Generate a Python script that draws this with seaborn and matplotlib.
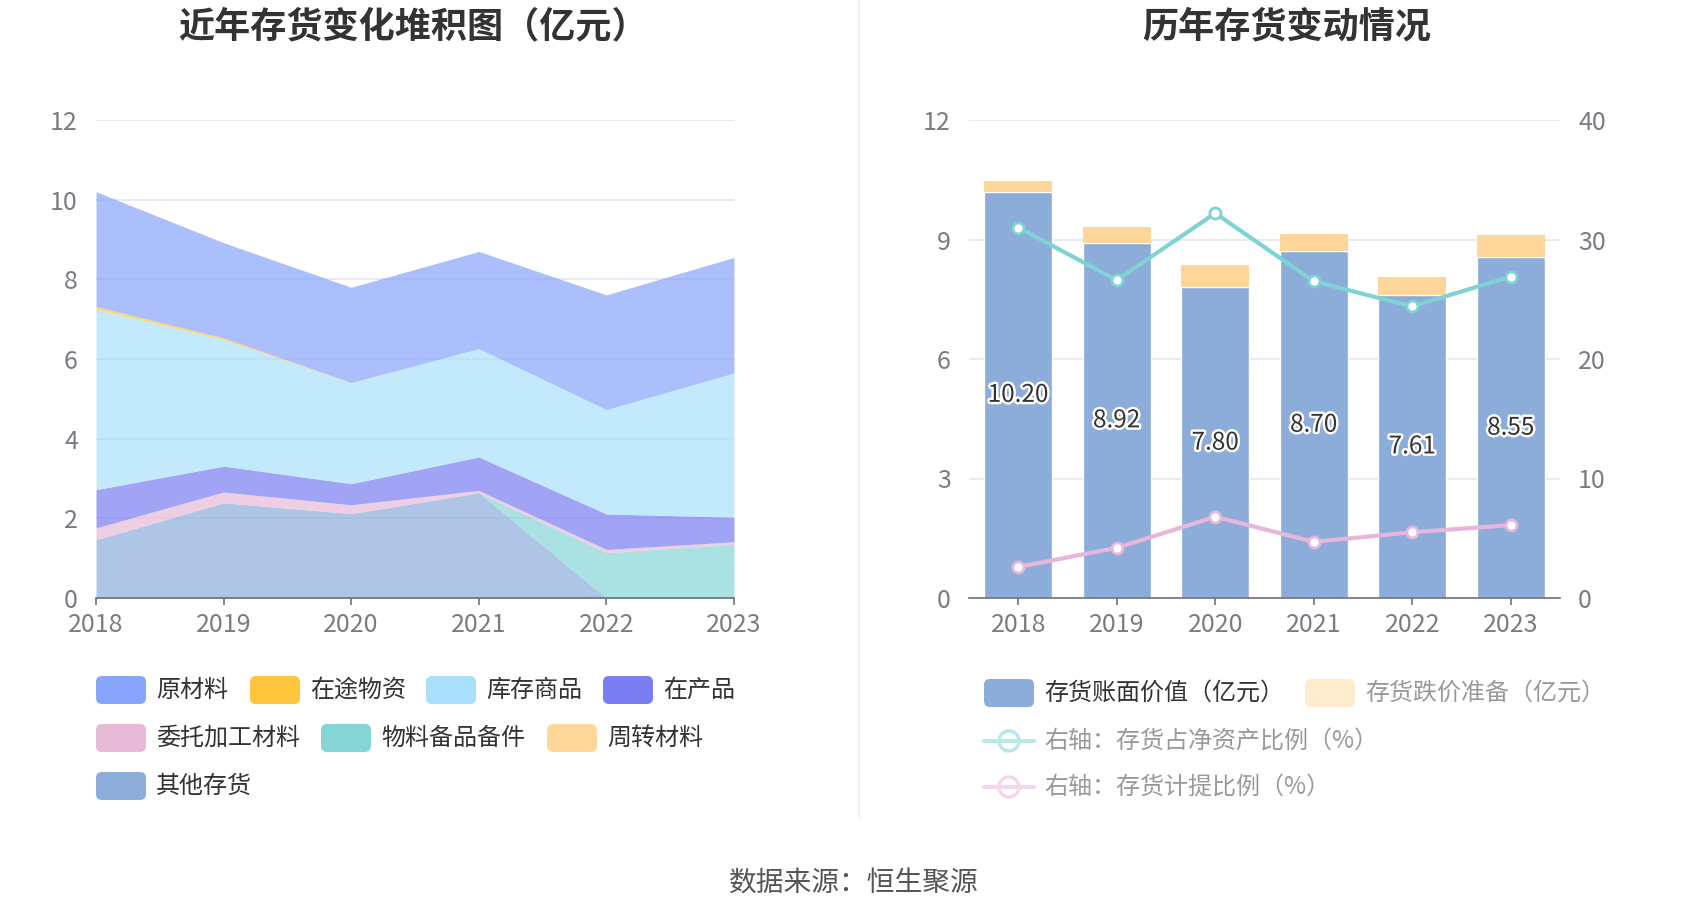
import numpy as np
import pandas as pd
import matplotlib
matplotlib.use("Agg")
import matplotlib.pyplot as plt
import matplotlib.patheffects as pe
from matplotlib.patches import FancyBboxPatch, Circle
from matplotlib.lines import Line2D
import seaborn as sns

# ---------------- data ----------------
years = ["2018", "2019", "2020", "2021", "2022", "2023"]
year_num = [2018, 2019, 2020, 2021, 2022, 2023]

raw_material = [2.88, 2.39, 2.39, 2.44, 2.88, 2.90]      # 原材料
in_transit = [0.07, 0.04, 0.01, 0.00, 0.00, 0.00]        # 在途物资
finished_goods = [4.53, 3.18, 2.53, 2.72, 2.62, 3.62]    # 库存商品
wip = [0.96, 0.65, 0.53, 0.84, 0.89, 0.62]               # 在产品
consigned = [0.30, 0.27, 0.22, 0.06, 0.08, 0.06]         # 委托加工材料
spare_parts = [0.00, 0.00, 0.00, 0.00, 1.14, 1.35]       # 物料备品备件
turnover = [0.00, 0.00, 0.00, 0.00, 0.00, 0.00]          # 周转材料
other = [1.46, 2.39, 2.12, 2.64, 0.00, 0.00]             # 其他存货

book_value = [10.20, 8.92, 7.80, 8.70, 7.61, 8.55]       # 存货账面价值（亿元）
impairment = [0.27, 0.39, 0.57, 0.43, 0.44, 0.56]        # 存货跌价准备（亿元）
ratio_net_assets = [31.0, 26.6, 32.2, 26.5, 24.4, 26.9]  # 存货占净资产比例（%）
provision_ratio = [2.6, 4.2, 6.8, 4.7, 5.5, 6.1]         # 存货计提比例（%）

left_legend = ["原材料", "在途物资", "库存商品", "在产品",
               "委托加工材料", "物料备品备件", "周转材料", "其他存货"]
left_colors = ["#88a5fd", "#ffc53d", "#a8e0fb", "#7a7ef2",
               "#e8bad8", "#86d5d6", "#ffd899", "#8dadda"]

# ---------------- style ----------------
sns.set_theme(style="white")
plt.rcParams["font.family"] = ["Noto Sans CJK SC", "DejaVu Sans"]
plt.rcParams["axes.unicode_minus"] = False

W, H = 1700, 918
fig = plt.figure(figsize=(W / 100, H / 100), dpi=100)
fig.patch.set_facecolor("white")

tick_color = "#7a7c84"
axis_color = "#6e7079"
grid_color = "#e0e6f1"
tick_fs = 18


def px_axes(x0, y0, x1, y1):
    return fig.add_axes([x0 / W, 1 - y1 / H, (x1 - x0) / W, (y1 - y0) / H])


# ---------------- left: stacked area ----------------
ax1 = px_axes(96, 120, 734, 598)
stack_series = [other, turnover, spare_parts, consigned, wip, finished_goods, in_transit, raw_material]
stack_colors = [left_colors[7], left_colors[6], left_colors[5], left_colors[4],
                left_colors[3], left_colors[2], left_colors[1], left_colors[0]]
ax1.stackplot(year_num, *[np.array(s) for s in stack_series], colors=stack_colors,
              alpha=0.7, linewidth=0, zorder=2)
ax1.set_xlim(2018, 2023)
ax1.set_ylim(0, 12)
ax1.set_yticks([0, 2, 4, 6, 8, 10, 12])
ax1.set_xticks(year_num)
ax1.set_xticklabels(years)
ax1.yaxis.grid(True, color=grid_color, lw=1.2, zorder=0)
ax1.xaxis.grid(False)
ax1.set_axisbelow(True)
for s in ["top", "right", "left"]:
    ax1.spines[s].set_visible(False)
ax1.spines["bottom"].set_color(axis_color)
ax1.spines["bottom"].set_linewidth(1.2)
ax1.tick_params(axis="x", colors=axis_color, labelcolor=tick_color, labelsize=tick_fs,
                length=5, width=1.2, direction="out", pad=5, bottom=True)
ax1.tick_params(axis="y", colors=tick_color, labelsize=tick_fs, length=0, pad=13)
ax1.set_facecolor("none")

# ---------------- right: bars + lines ----------------
ax2 = px_axes(969, 120, 1560, 598)
df = pd.DataFrame({"year": years, "book": book_value, "imp": impairment})
sns.barplot(data=df, x="year", y="book", color="#8cacd9", saturation=1, width=0.69,
            ax=ax2, zorder=2)
ax2.bar(np.arange(len(years)), impairment, bottom=book_value, width=0.69,
        color="#ffd699", zorder=2, linewidth=0)
ax2.set_xlim(-0.5, 5.5)
ax2.set_ylim(0, 12)
ax2.set_yticks([0, 3, 6, 9, 12])
ax2.set_xlabel("")
ax2.set_ylabel("")
ax2.yaxis.grid(True, color=grid_color, lw=1.2, zorder=0)
ax2.set_axisbelow(True)
for s in ["top", "right", "left"]:
    ax2.spines[s].set_visible(False)
ax2.spines["bottom"].set_color(axis_color)
ax2.spines["bottom"].set_linewidth(1.2)
ax2.tick_params(axis="x", colors=axis_color, labelcolor=tick_color, labelsize=tick_fs,
                length=5, width=1.2, direction="out", pad=5, bottom=True)
ax2.tick_params(axis="y", colors=tick_color, labelsize=tick_fs, length=0, pad=13)

for i, v in enumerate(book_value):
    ax2.text(i, v / 2, f"{v:.2f}", ha="center", va="center", fontsize=17.5,
             color="#333333", zorder=5,
             path_effects=[pe.withStroke(linewidth=3.5, foreground="white")])

axr = ax2.twinx()
teal = "#7fd3d4"
pink = "#e6b7da"
sns.lineplot(x=np.arange(len(years)), y=ratio_net_assets, ax=axr, color=teal, lw=3,
             marker="o", markersize=8, markerfacecolor="white", markeredgecolor=teal,
             markeredgewidth=2, zorder=4)
sns.lineplot(x=np.arange(len(years)), y=provision_ratio, ax=axr, color=pink, lw=3,
             marker="o", markersize=8, markerfacecolor="white", markeredgecolor=pink,
             markeredgewidth=2, zorder=4)
axr.set_ylim(0, 40)
axr.set_yticks([0, 10, 20, 30, 40])
axr.set_xlim(-0.5, 5.5)
axr.set_ylabel("")
axr.set_xlabel("")
axr.grid(False)
for s in ["top", "right", "left", "bottom"]:
    axr.spines[s].set_visible(False)
axr.tick_params(axis="y", colors=tick_color, labelsize=tick_fs, length=0, pad=13)

# ---------------- overlay: titles, legends, source ----------------
ov = fig.add_axes([0, 0, 1, 1], zorder=10)
ov.set_xlim(0, W)
ov.set_ylim(H, 0)
ov.axis("off")
ov.patch.set_alpha(0)

ov.text(413, 27, "近年存货变化堆积图（亿元）", ha="center", va="center", fontsize=26,
        fontweight="bold", color="#333333")
ov.text(1287, 27, "历年存货变动情况", ha="center", va="center", fontsize=26,
        fontweight="bold", color="#333333")

ov.add_line(Line2D([859, 859], [0, 817], color="#eeeeee", lw=1.2))


def swatch(x, y, color, label, tcolor="#333333"):
    ov.add_patch(FancyBboxPatch((x, y - 14), 50, 28,
                                boxstyle="round,pad=0,rounding_size=6",
                                facecolor=color, edgecolor="none"))
    ov.text(x + 60, y, label, ha="left", va="center", fontsize=17.3, color=tcolor)


def line_icon(x, y, color, label, tcolor="#999999"):
    ov.add_line(Line2D([x, x + 50], [y, y], color=color, lw=3))
    ov.add_patch(Circle((x + 25, y), 10, facecolor="white", edgecolor=color, lw=2.5))
    ov.text(x + 60, y, label, ha="left", va="center", fontsize=17.3, color=tcolor)


left_pos = [(96, 690), (250, 690), (426, 690), (603, 690),
            (96, 738), (321, 738), (547, 738), (96, 786)]
for (x, y), lab, col in zip(left_pos, left_legend, left_colors):
    swatch(x, y, col, lab)

swatch(984, 693, "#8cacd9", "存货账面价值（亿元）")
swatch(1305, 693, "#ffecce", "存货跌价准备（亿元）", tcolor="#999999")
line_icon(984, 741, "#b8e9ea", "右轴：存货占净资产比例（%）")
line_icon(984, 787, "#f3d7ec", "右轴：存货计提比例（%）")

ov.text(854, 884, "数据来源：恒生聚源", ha="center", va="center", fontsize=20,
        color="#555555")

fig.savefig("out.png", dpi=100, facecolor="white")
